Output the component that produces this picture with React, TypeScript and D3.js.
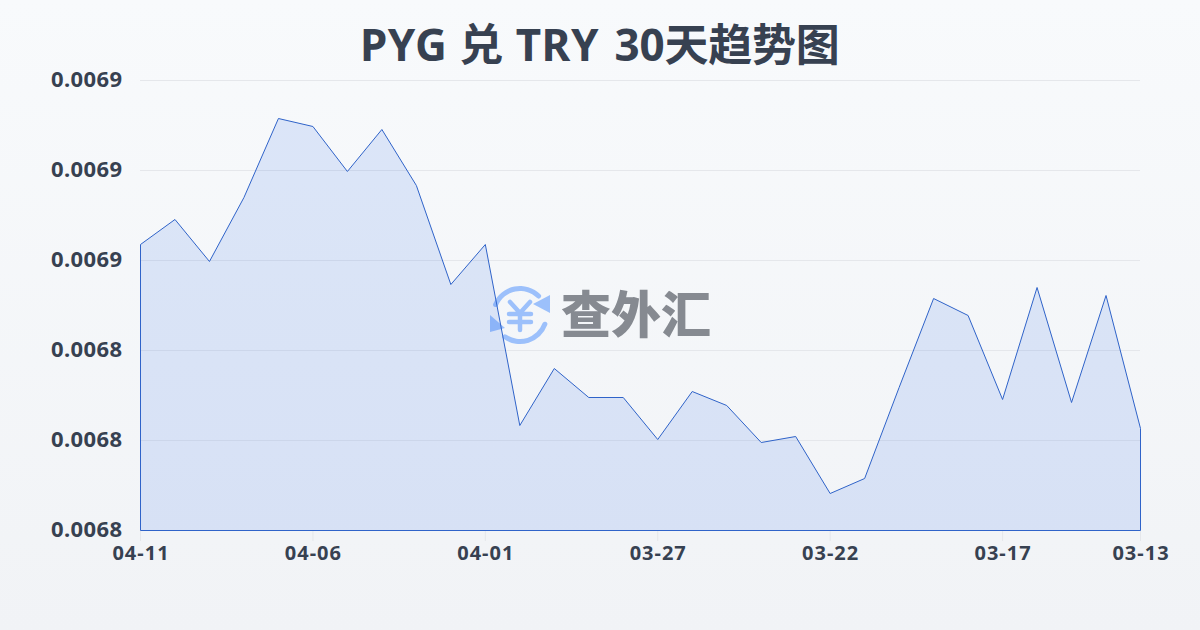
import React from "react";
import * as d3 from "d3";

const dates = ["04-11","04-10","04-09","04-08","04-07","04-06","04-05","04-04","04-03","04-02","04-01","03-31","03-30","03-29","03-28","03-27","03-26","03-25","03-24","03-23","03-22","03-21","03-20","03-19","03-18","03-17","03-16","03-15","03-14","03-13"];
const rates = [0.00687533,0.00688367,0.00686967,0.006891,0.00691733,0.00691467,0.00689967,0.00691367,0.006895,0.006862,0.00687533,0.006815,0.006834,0.00682433,0.00682433,0.00681033,0.00682633,0.00682167,0.00680933,0.00681133,0.00679233,0.00679733,0.00682767,0.00685733,0.00685167,0.00682367,0.006861,0.00682267,0.00685833,0.006814];
const yTicks = [0.00678,0.00681,0.00684,0.00687,0.0069,0.00693];
const xTickEvery = 5;
const titleHead = "PYG 兑 TRY ";
const titleTail = "30天趋势图";
const watermark = "查外汇";
const FONT = "'Noto Sans','Noto Sans CJK SC',sans-serif";

export default function App() {
  const x = d3.scaleLinear().domain([0, dates.length - 1]).range([140.5, 1140.5]);
  const y = d3.scaleLinear().domain([yTicks[0], yTicks[yTicks.length - 1]]).range([530.5, 80.5]);
  const pts = rates.map((r, i) => [x(i), y(r)] as [number, number]);
  const line = d3.line()(pts) as string;
  const area = d3.area<[number, number]>().x(d => d[0]).y0(y(yTicks[0])).y1(d => d[1])(pts) as string;
  const cx = 520, cy = 315, r = 26.5;
  const ring = d3.arc().cornerRadius(2.5);
  const a1 = ring({ innerRadius: r - 2.5, outerRadius: r + 2.5, startAngle: -1.26, endAngle: 0.87 }) as string;
  const a2 = ring({ innerRadius: r - 2.5, outerRadius: r + 2.5, startAngle: 1.83, endAngle: 3.84 }) as string;
  return (
    <svg width={1200} height={630} style={{ position: "absolute", left: 0, top: 0 }} fontFamily={FONT}>
      <defs>
        <linearGradient id="bg" x1="0" y1="0" x2="0" y2="1">
          <stop offset="0" stopColor="#f8fafc" />
          <stop offset="1" stopColor="#f1f3f6" />
        </linearGradient>
      </defs>
      <rect width={1200} height={630} fill="url(#bg)" />
      <text y={61} fontSize={44} fontWeight={700} fill="#374151">
        <tspan x={360} letterSpacing={0.5}>{titleHead}</tspan>
        <tspan x={614.5} letterSpacing={-0.2}>{titleTail}</tspan>
      </text>
      {yTicks.map((t, i) => (
        <g key={i}>
          <line x1={140} x2={1140} y1={y(t)} y2={y(t)} stroke="#e5e7eb" strokeWidth={1} />
          <text x={122.5} y={y(t) + 6} textAnchor="end" fontSize={22} fontWeight={700} letterSpacing={0.4} fill="#374151">{t.toFixed(4)}</text>
        </g>
      ))}
      <g transform={`translate(${cx},${cy})`} fill="#9cc0fb">
        <path d={a1} />
        <path d={a2} />
        <path d="M30,-20 L30,-2 L13,-11 Z" />
        <path d="M-30,0 L-30,17 L-15,13 Z" />
        <path d="M-10,-13 L0,-2 L10,-13 M-11,-1 H11 M-11,7 H11 M0,-1 V15" fill="none" stroke="#9cc0fb" strokeWidth={4.5} strokeLinecap="round" strokeLinejoin="round" />
      </g>
      <text x={636} y={333} textAnchor="middle" fontSize={50} fontWeight={900} fill="#868a91" fontFamily="'Noto Sans CJK SC',sans-serif">{watermark}</text>
      <path d={area} fill="#2563eb" fillOpacity={0.13} />
      <path d={`M${x(0)},${y(yTicks[0])} L${x(0)},${pts[0][1]} ${line.slice(1)} L${x(dates.length - 1)},${y(yTicks[0])} Z`} fill="none" stroke="#2f63c9" strokeWidth={1} />
      {d3.range(0, dates.length, xTickEvery).concat(dates.length - 1).map(i => (
        <g key={i}>
          <line x1={x(i)} x2={x(i)} y1={531} y2={541} stroke="#e5e7eb" strokeWidth={1} />
          <text x={x(i) + 0.5} y={560} textAnchor="middle" fontSize={20} fontWeight={700} letterSpacing={1} fill="#374151">{dates[i]}</text>
        </g>
      ))}
    </svg>
  );
}
